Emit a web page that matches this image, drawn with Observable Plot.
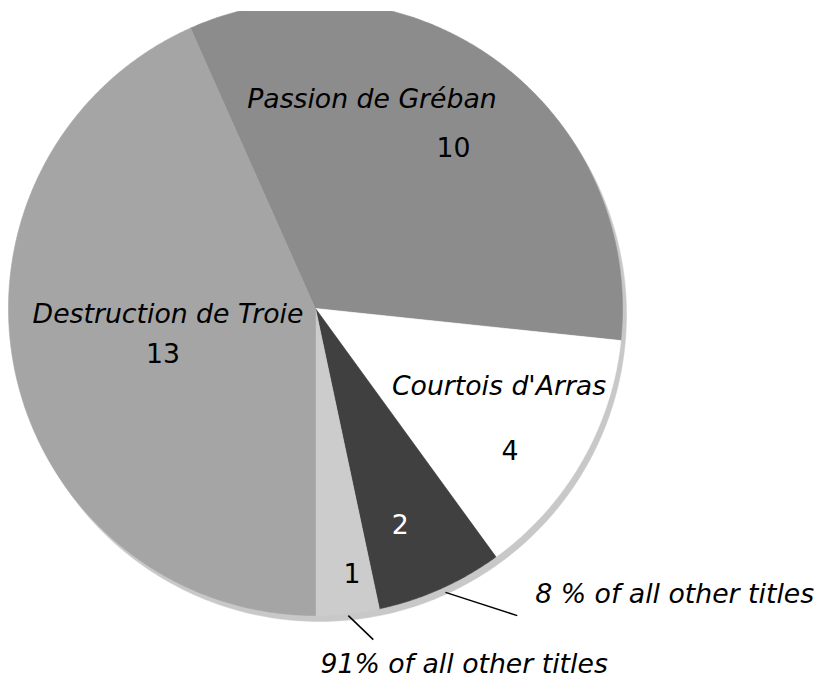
<!DOCTYPE html>
<html>
<head>
<meta charset="utf-8">
<script src="https://cdn.jsdelivr.net/npm/d3@7"></script>
<script src="https://cdn.jsdelivr.net/npm/@observablehq/plot@0.6"></script>
<style>
  html, body { margin: 0; padding: 0; background: #ffffff; }
  #chart { width: 823px; height: 680px; }
</style>
</head>
<body>
<div id="chart"></div>
<script>
// ---- data ----
const categories = ["Passion de Gréban", "Courtois d'Arras", "8 % of all other titles", "91% of all other titles", "Destruction de Troie"];
const counts = [10, 4, 2, 1, 13];
const sliceNames = ["Passion de Gréban", "Courtois d'Arras", "", "", "Destruction de Troie"];
const calloutTexts = ["8 % of all other titles", "91% of all other titles"];

// ---- styling / layout ----
const colors = ["#8c8c8c", "#ffffff", "#404040", "#cccccc", "#a5a5a5"];
const valueColors = ["#000000", "#000000", "#ffffff", "#000000", "#000000"];
const startDeg = -24;
// label placement in polar terms: [angle deg clockwise from top, radius fraction]
const namePos = [[15.1, 0.706], [112.9, 0.649], null, null, [267.5, 0.481]];
const valuePos = [[40.7, 0.689], [126.3, 0.786], [158.7, 0.759], [172.2, 0.873], [253.1, 0.519]];
// callouts: slice index, leader start, leader end, text start
const callouts = [
  {slice: 2, from: [155.4, 1.017], to: [146.7, 1.197], text: [142.5, 1.176]},
  {slice: 3, from: [173.9, 1.006], to: [170.1, 1.095], text: [179.2, 1.158]}
];

const rad = d => d * Math.PI / 180;
const polar = (deg, r) => ({x: r * Math.sin(rad(deg)), y: r * Math.cos(rad(deg))});

const arcs = d3.pie().sort(null)
  .startAngle(rad(startDeg)).endAngle(rad(startDeg + 360))(counts);

// slice outlines built from the pie angles
const slicePts = [];
arcs.forEach((a, i) => {
  slicePts.push({key: categories[i], color: colors[i], x: 0, y: 0});
  const n = Math.max(2, Math.ceil((a.endAngle - a.startAngle) / rad(0.5)));
  for (let k = 0; k <= n; k++) {
    const t = a.startAngle + (a.endAngle - a.startAngle) * k / n;
    slicePts.push({key: categories[i], color: colors[i], x: Math.sin(t), y: Math.cos(t)});
  }
});

// light grey rim (3-D edge) offset down-right
const rimDx = 4 / 307, rimDy = -6 / 307;
const rimPts = d3.range(0, 361, 1).map(d => ({x: Math.sin(rad(d)) + rimDx, y: Math.cos(rad(d)) + rimDy}));

const nameLabels = categories.map((c, i) => namePos[i] ? {text: sliceNames[i], ...polar(...namePos[i])} : null).filter(Boolean);
const valueLabels = counts.map((v, i) => ({text: String(v), color: valueColors[i], ...polar(...valuePos[i])}));
const leaders = callouts.map(c => {
  const a = polar(...c.from), b = polar(...c.to);
  return {x1: a.x, y1: a.y, x2: b.x, y2: b.y};
});
const calloutLabels = callouts.map((c, i) => ({text: calloutTexts[i], ...polar(...c.text)}));

const fs = 26.7;
const chart = Plot.plot({
  width: 823,
  height: 680,
  marginTop: 11,
  marginRight: 0,
  marginBottom: 0,
  marginLeft: 0,
  x: {domain: [-1, 1], range: [8, 622], axis: null},
  y: {domain: [-1, 1], range: [615, 1], axis: null},
  style: {fontFamily: "DejaVu Sans, Verdana, sans-serif", background: "#ffffff"},
  marks: [
    Plot.line(rimPts, {x: "x", y: "y", fill: "#c8c8c8", stroke: "#c8c8c8", strokeWidth: 0.5, clip: true}),
    Plot.line(slicePts, {x: "x", y: "y", z: "key", fill: "color", stroke: "color", strokeWidth: 0.6, curve: "linear", clip: true}),
    Plot.text(nameLabels, {x: "x", y: "y", text: "text", fontSize: fs, fontStyle: "italic", fill: "#000000"}),
    Plot.text(valueLabels, {x: "x", y: "y", text: "text", fontSize: fs, fill: "color"}),
    Plot.link(leaders, {x1: "x1", y1: "y1", x2: "x2", y2: "y2", stroke: "#000000", strokeWidth: 1.5}),
    Plot.text(calloutLabels, {x: "x", y: "y", text: "text", fontSize: fs, fontStyle: "italic", textAnchor: "start", fill: "#000000"})
  ]
});
document.getElementById("chart").appendChild(chart);
</script>
</body>
</html>
